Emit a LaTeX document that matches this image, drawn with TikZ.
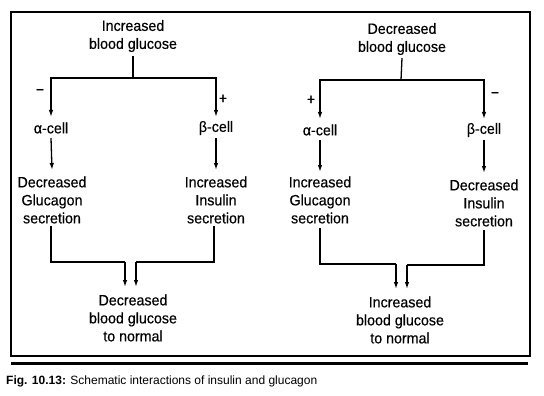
\documentclass[tikz,border=0pt]{standalone}
\usepackage{fontspec}
\setmainfont{Liberation Sans}
\newfontfamily\diagfont[FakeStretch=0.95,FakeBold=0.4]{Liberation Sans}
\usetikzlibrary{arrows.meta,calc}
\begin{document}
\begin{tikzpicture}[x=1pt,y=-1pt,
  txt/.style={inner sep=0pt,align=center,font=\diagfont\fontsize{15}{18}\selectfont},
  sgn/.style={inner sep=0pt,font=\diagfont\fontsize{15}{18}\selectfont},
  ln/.style={line width=1.3pt},
  arr/.style={line width=1.3pt,-{Latex[length=7pt,width=4.5pt]}}]
\useasboundingbox (0,0) rectangle (544,396);
% frame and rule
\draw[line width=1.5pt] (11,12) rectangle (530,356);
\fill (11,361.5) rectangle (528,365);
\node[anchor=west,inner sep=0pt,font=\fontsize{12}{14}\selectfont] (cap) at (6,381)
  {\textbf{Fig. 10.13:} Schematic interactions of insulin and glucagon};
% ---------- left scheme ----------
\node[txt] (lt) at (133,36) {Increased\\blood glucose};
\node[txt] (la) at (51,128) {α-cell};
\node[txt] (lb) at (216,128) {β-cell};
\node[txt] (lg) at (52,200) {Decreased\\Glucagon\\secretion};
\node[txt] (li) at (216,200) {Increased\\Insulin\\secretion};
\node[txt] (lr) at (133,318) {Decreased\\blood glucose\\to normal};
\node[sgn] (lm) at (40,92) {−};
\node[sgn] (lp) at (223,99) {+};
\coordinate (lj) at (133,78);
\coordinate (lk1) at (125,262);
\coordinate (lk2) at (136,262);
\draw[ln] (lt) ++(0,20) -- (lj);
\draw[arr] (lj) -| ($(la)+(0,-11)$);
\draw[arr] (lj) -| ($(lb)+(0,-11)$);
\draw[arr] (la) ++(0,10) -- ($(lg)+(0,-30)$);
\draw[arr] (lb) ++(0,10) -- ($(li)+(0,-30)$);
\draw[ln] (lg) ++(-1,26) |- (lk1);
\draw[arr] (lk1) -- ($(lk1 |- lr)+(0,-31)$);
\draw[ln] (li) ++(-2,26) |- (lk2);
\draw[arr] (lk2) -- ($(lk2 |- lr)+(0,-31)$);
% ---------- right scheme ----------
\node[txt] (rt) at (402,39) {Decreased\\blood glucose};
\node[txt] (ra) at (320,130) {α-cell};
\node[txt] (rb) at (484,130) {β-cell};
\node[txt] (rg) at (320,200) {Increased\\Glucagon\\secretion};
\node[txt] (ri) at (484,203) {Decreased\\Insulin\\secretion};
\node[txt] (rr) at (400,320) {Increased\\blood glucose\\to normal};
\node[sgn] (rp) at (311,100) {+};
\node[sgn] (rm) at (495,95) {−};
\coordinate (rj) at (401,80);
\coordinate (rk1) at (396,264);
\coordinate (rk2) at (407,265);
\draw[ln] (rt) ++(0,19) -- (rj);
\draw[arr] (rj) -| ($(ra)+(0,-11)$);
\draw[arr] (rj) -| ($(rb)+(0,-11)$);
\draw[arr] (ra) ++(0,10) -- ($(rg)+(0,-28)$);
\draw[arr] (rb) ++(0,10) -- ($(ri)+(0,-30)$);
\draw[ln] (rg) ++(0,28) |- (rk1);
\draw[arr] (rk1) -- ($(rk1 |- rr)+(0,-31)$);
\draw[ln] (ri) ++(0,27) |- (rk2);
\draw[arr] (rk2) -- ($(rk2 |- rr)+(0,-31)$);
\end{tikzpicture}
\end{document}
